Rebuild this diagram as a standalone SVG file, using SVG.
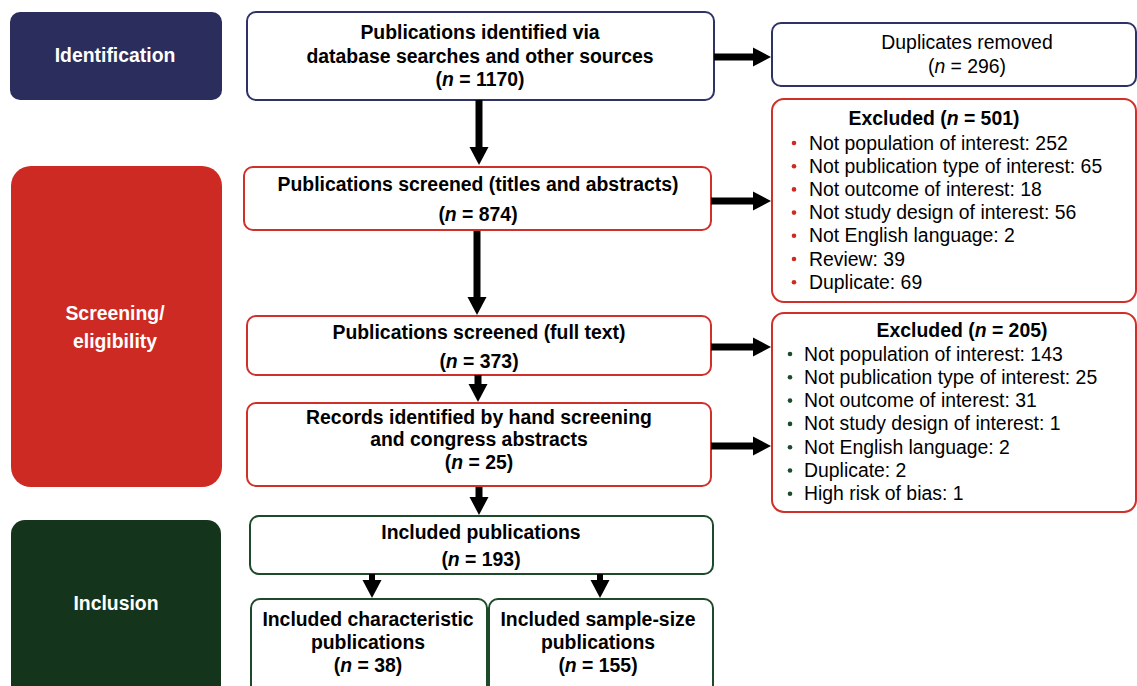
<svg xmlns="http://www.w3.org/2000/svg" width="1137" height="686" viewBox="0 0 1137 686">
<style>
text{font-family:"Liberation Sans",Arial,sans-serif;font-size:19.4px;fill:#000}
.b{font-weight:bold}
.c{text-anchor:middle}
.w{fill:#fff;font-weight:bold;text-anchor:middle}
.nb{fill:#fff;stroke:#2e3266;stroke-width:2}
.rb{fill:#fff;stroke:#d0302a;stroke-width:2}
.gb{fill:#fff;stroke:#1d4a2a;stroke-width:2}
.arr{fill:none;stroke:#000;stroke-width:7;marker-end:url(#ah)}
.rd{fill:#cc2a22}
.gd{fill:#1d4a2a}
</style>
<defs>
<marker id="ah" markerUnits="userSpaceOnUse" markerWidth="18" markerHeight="20" refX="1" refY="10" orient="auto">
<path d="M0,0.5 L18,10 L0,19.5 z" fill="#000"/>
</marker>
</defs>
<g id="stage-identification"><rect x="10" y="12" width="212" height="88" rx="10" fill="#2b2d5c"/><text class="w" x="115" y="62">Identification</text></g>
<g id="stage-screening"><rect x="11" y="166" width="211" height="321" rx="20" fill="#cc2a22"/><text class="w" x="115" y="320">Screening/</text><text class="w" x="115" y="348">eligibility</text></g>
<g id="stage-inclusion"><rect x="11" y="520" width="210" height="190" rx="14" fill="#14351b"/><text class="w" x="116" y="610">Inclusion</text></g>

<g id="identified"><rect class="nb" x="247" y="12" width="467" height="88" rx="9"/>
<text class="b c" x="480" y="39">Publications identified via</text>
<text class="b c" x="480" y="63">database searches and other sources</text>
<text class="b c" x="480" y="86">(<tspan font-style="italic">n</tspan> = 1170)</text></g>

<g id="duplicates"><rect class="nb" x="772" y="23" width="364" height="63" rx="9"/>
<text class="c" x="967" y="48.5">Duplicates removed</text>
<text class="c" x="967" y="72.5">(<tspan font-style="italic">n</tspan> = 296)</text></g>

<g id="screened-ta"><rect class="rb" x="244" y="167" width="467" height="63" rx="9"/>
<text class="b c" x="478" y="191">Publications screened (titles and abstracts)</text>
<text class="b c" x="478" y="221">(<tspan font-style="italic">n</tspan> = 874)</text></g>

<g id="excluded-501"><rect class="rb" x="772" y="99" width="364" height="203" rx="12"/>
<text class="b c" x="934" y="125">Excluded (<tspan font-style="italic">n</tspan> = 501)</text>
<circle class="rd" cx="794" cy="143" r="2.3"/><text x="809" y="149.5">Not population of interest: 252</text>
<circle class="rd" cx="794" cy="166.2" r="2.3"/><text x="809" y="172.7">Not publication type of interest: 65</text>
<circle class="rd" cx="794" cy="189.4" r="2.3"/><text x="809" y="195.9">Not outcome of interest: 18</text>
<circle class="rd" cx="794" cy="212.6" r="2.3"/><text x="809" y="219.1">Not study design of interest: 56</text>
<circle class="rd" cx="794" cy="235.8" r="2.3"/><text x="809" y="242.3">Not English language: 2</text>
<circle class="rd" cx="794" cy="259" r="2.3"/><text x="809" y="265.5">Review: 39</text>
<circle class="rd" cx="794" cy="282.2" r="2.3"/><text x="809" y="288.7">Duplicate: 69</text></g>

<g id="screened-ft"><rect class="rb" x="247" y="316" width="464" height="59" rx="9"/>
<text class="b c" x="479" y="339">Publications screened (full text)</text>
<text class="b c" x="479" y="368">(<tspan font-style="italic">n</tspan> = 373)</text></g>

<g id="hand-screening"><rect class="rb" x="247" y="403" width="464" height="83" rx="9"/>
<text class="b c" x="479" y="424">Records identified by hand screening</text>
<text class="b c" x="479" y="446">and congress abstracts</text>
<text class="b c" x="479" y="469">(<tspan font-style="italic">n</tspan> = 25)</text></g>

<g id="excluded-205"><rect class="rb" x="772" y="313" width="364" height="199" rx="12"/>
<text class="b c" x="962" y="336.5">Excluded (<tspan font-style="italic">n</tspan> = 205)</text>
<circle class="gd" cx="790" cy="354" r="2.3"/><text x="804" y="360.5">Not population of interest: 143</text>
<circle class="gd" cx="790" cy="377.3" r="2.3"/><text x="804" y="383.8">Not publication type of interest: 25</text>
<circle class="gd" cx="790" cy="400.6" r="2.3"/><text x="804" y="407.1">Not outcome of interest: 31</text>
<circle class="gd" cx="790" cy="423.9" r="2.3"/><text x="804" y="430.4">Not study design of interest: 1</text>
<circle class="gd" cx="790" cy="447.2" r="2.3"/><text x="804" y="453.7">Not English language: 2</text>
<circle class="gd" cx="790" cy="470.5" r="2.3"/><text x="804" y="477">Duplicate: 2</text>
<circle class="gd" cx="790" cy="493.8" r="2.3"/><text x="804" y="500.3">High risk of bias: 1</text></g>

<g id="included"><rect class="gb" x="250" y="516" width="463" height="58" rx="9"/>
<text class="b c" x="481" y="539">Included publications</text>
<text class="b c" x="481" y="566">(<tspan font-style="italic">n</tspan> = 193)</text></g>

<g id="included-characteristic"><rect class="gb" x="251" y="599" width="236" height="100" rx="9"/>
<text class="b c" x="368" y="626">Included characteristic</text>
<text class="b c" x="368" y="649">publications</text>
<text class="b c" x="368" y="672">(<tspan font-style="italic">n</tspan> = 38)</text></g>

<g id="included-samplesize"><rect class="gb" x="489" y="599" width="224" height="100" rx="9"/>
<text class="b c" x="598" y="626">Included sample-size</text>
<text class="b c" x="598" y="649">publications</text>
<text class="b c" x="598" y="672">(<tspan font-style="italic">n</tspan> = 155)</text></g>

<g id="connectors">
<path class="arr" d="M714,57 H754"/>
<path class="arr" d="M479,100 V148"/>
<path class="arr" d="M711,201 H754"/>
<path class="arr" d="M477,231 V298"/>
<path class="arr" d="M711,347 H754"/>
<path class="arr" d="M478,375 V385"/>
<path class="arr" d="M711,446 H754"/>
<path class="arr" d="M479,487 V498"/>
<path class="arr" d="M372,574 V581" style="stroke-width:6"/>
<path class="arr" d="M600,574 V581" style="stroke-width:6"/>
</g>
</svg>
